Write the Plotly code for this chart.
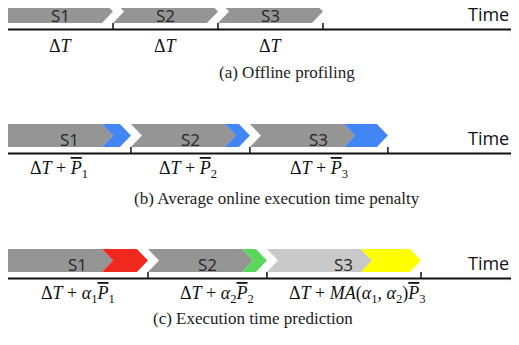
import plotly.graph_objects as go

# ---------------- data ----------------
stages = ["S1", "S2", "S3"]
base_duration = [1.0, 1.0, 1.0]            # ΔT for each stage (in units of ΔT)
penalty_offline = [0.0, 0.0, 0.0]          # panel (a)
penalty_average = [0.171, 0.133, 0.314]    # panel (b): mean online penalty P̄_i
penalty_predict = [0.333, 0.133, 0.467]    # panel (c): α-weighted penalty

OL = "<span style='text-decoration:overline'><i>P</i></span>"
labels_a = ["Δ<i>T</i>", "Δ<i>T</i>", "Δ<i>T</i>"]
labels_b = ["Δ<i>T</i> + " + OL + "<sub>1</sub>",
            "Δ<i>T</i> + " + OL + "<sub>2</sub>",
            "Δ<i>T</i> + " + OL + "<sub>3</sub>"]
labels_c = ["Δ<i>T</i> + <i>α</i><sub>1</sub>" + OL + "<sub>1</sub>",
            "Δ<i>T</i> + <i>α</i><sub>2</sub>" + OL + "<sub>2</sub>",
            "Δ<i>T</i> + <i>MA</i>(<i>α</i><sub>1</sub>, <i>α</i><sub>2</sub>)" + OL + "<sub>3</sub>"]
captions = ["(a) Offline profiling",
            "(b) Average online execution time penalty",
            "(c) Execution time prediction"]
axis_word = "Time"

# ---------------- style / layout ----------------
W, H = 519, 345
PAGE_MARGIN = 8        # default body margin of the html page
X0_PX = 8.0            # pixel where time 0 sits
PX_PER_UNIT = 105.0    # pixels per ΔT
D = 11.0 / PX_PER_UNIT # chevron depth in data units
BAR_H = 23.0

GRAY = "#959595"
LIGHT = "#c9c9c9"
BLUE = "#4285f4"
RED = "#f0281e"
GREEN = "#5ad65a"
YELLOW = "#ffff00"

panels = [
    dict(pen=penalty_offline, labels=labels_a, top=0.0, caption_x=287, caption_y=72,
         gray=[GRAY, GRAY, GRAY], col=[None, None, None], shift=[0, 0, 0]),
    dict(pen=penalty_average, labels=labels_b, top=124.0, caption_x=277, caption_y=198,
         gray=[GRAY, GRAY, GRAY], col=[BLUE, BLUE, BLUE], shift=[-10, -2, 0]),
    dict(pen=penalty_predict, labels=labels_c, top=249.0, caption_x=253, caption_y=318,
         gray=[GRAY, GRAY, LIGHT], col=[RED, GREEN, YELLOW], shift=[0, 10, 14]),
]


def u(px):
    return (px - X0_PX) / PX_PER_UNIT


fig = go.Figure()
ann = []

for pi, p in enumerate(panels):
    top = p["top"]
    bot = top + BAR_H
    mid = (top + bot) / 2
    axis_y = bot + 6.5
    xs = 0.0
    tips = []
    for k, name in enumerate(stages):
        xg = xs + base_duration[k]
        xt = xg + p["pen"][k]
        if k == 0:
            gx = [xs, xg - D, xg, xg - D, xs, xs]
            gy = [top, top, mid, bot, bot, top]
        else:
            gx = [xs, xg - D, xg, xg - D, xs, xs + D, xs]
            gy = [top, top, mid, bot, bot, mid, top]
        fig.add_trace(go.Scatter(x=gx, y=gy, fill="toself", fillcolor=p["gray"][k],
                                 mode="lines", line=dict(width=0), hoverinfo="skip"))
        if p["pen"][k] > 0:
            cx = [xg - D, xt - D, xt, xt - D, xg - D, xg, xg - D]
            cy = [top, top, mid, bot, bot, mid, top]
            fig.add_trace(go.Scatter(x=cx, y=cy, fill="toself", fillcolor=p["col"][k],
                                     mode="lines", line=dict(width=0), hoverinfo="skip"))
        ann.append(dict(x=(xs + xt) / 2, y=mid + 3.5, text=name, showarrow=False,
                        xanchor="center", yanchor="middle",
                        font=dict(family="Open Sans", size=17, color="#262626")))
        ann.append(dict(x=(xs + xt) / 2 + p["shift"][k] / PX_PER_UNIT, y=axis_y + 16,
                        text=p["labels"][k], showarrow=False,
                        xanchor="center", yanchor="middle",
                        font=dict(family="Liberation Serif", size=18, color="#111")))
        tips.append(xt)
        xs = xt
    for t in tips:
        fig.add_trace(go.Scatter(x=[t, t], y=[bot, axis_y], mode="lines",
                                 line=dict(color="#111", width=1.5), hoverinfo="skip"))
    fig.add_trace(go.Scatter(x=[u(7), u(517)], y=[axis_y, axis_y], mode="lines",
                             line=dict(color="#111", width=2), hoverinfo="skip"))
    fig.add_trace(go.Scatter(x=[u(511), u(518), u(511)], y=[axis_y - 4, axis_y, axis_y + 4],
                             mode="lines", line=dict(color="#111", width=1.5), hoverinfo="skip"))
    ann.append(dict(x=u(511), y=mid + 2, text=axis_word, showarrow=False,
                    xanchor="right", yanchor="middle",
                    font=dict(family="Open Sans", size=18, color="#111")))
    ann.append(dict(x=u(p["caption_x"]), y=p["caption_y"], text=captions[pi],
                    showarrow=False, xanchor="center", yanchor="middle",
                    font=dict(family="Liberation Serif", size=17, color="#222")))

fig.update_layout(
    width=W - PAGE_MARGIN, height=H - PAGE_MARGIN,
    margin=dict(l=0, r=0, t=0, b=0),
    paper_bgcolor="white", plot_bgcolor="white",
    showlegend=False,
    annotations=ann,
    xaxis=dict(range=[u(PAGE_MARGIN), u(W)], visible=False, fixedrange=True),
    yaxis=dict(range=[H, PAGE_MARGIN], visible=False, fixedrange=True),
)

fig.write_html("out.html", config={"displayModeBar": False})
